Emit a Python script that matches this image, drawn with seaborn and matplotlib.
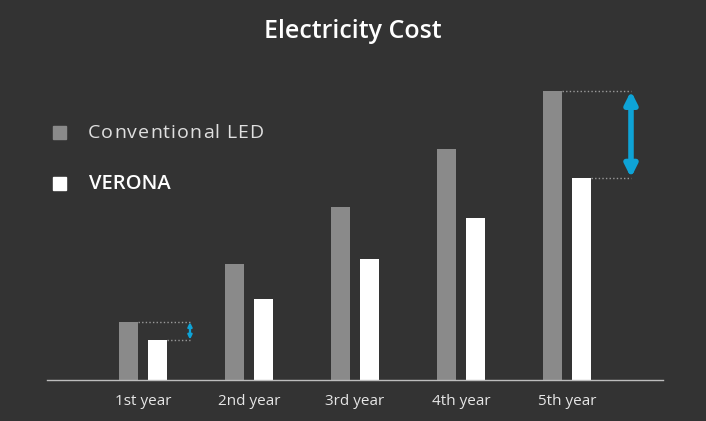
import numpy as np
import pandas as pd
import matplotlib.pyplot as plt
import seaborn as sns
from matplotlib.patches import Rectangle

# chart data
years = ['1st year', '2nd year', '3rd year', '4th year', '5th year']
conventional = [1.0, 2.0, 3.0, 4.0, 5.0]
verona = [0.7, 1.4, 2.1, 2.8, 3.5]
series_names = ['Conventional LED', 'VERONA']

df = pd.DataFrame({
    'Year': years * 2,
    'Cost': conventional + verona,
    'Type': [series_names[0]] * 5 + [series_names[1]] * 5,
})

bg = '#333333'
gray = '#8a8a8a'
cyan = '#0ea3d6'

sns.set_theme(style='white')
plt.rcParams['font.family'] = ['Open Sans', 'DejaVu Sans']

fig = plt.figure(figsize=(7.06, 4.21), dpi=100, facecolor=bg)
ax = fig.add_axes([47 / 706, 41 / 421, 616 / 706, 300 / 421])
ax.set_facecolor(bg)

sns.barplot(data=df, x='Year', y='Cost', hue='Type', order=years,
            palette=[gray, 'white'], width=0.56, gap=0.36,
            edgecolor='none', saturation=1, legend=False, ax=ax)

ax.set_xlim(-0.906, 4.906)
ax.set_ylim(0, 300 / 57.8)
ax.set_xlabel('')
ax.set_ylabel('')
ax.set_yticks([])
for s in ['top', 'right', 'left']:
    ax.spines[s].set_visible(False)
ax.spines['bottom'].set_color('#bdbdbd')
ax.spines['bottom'].set_linewidth(1)
ax.tick_params(axis='x', length=0, pad=10, labelsize=11, labelcolor='#e6e6e6')

# difference markers for 1st and 5th year
dot = dict(color='#9a9a9a', lw=1, linestyle=(0, (1, 1.6)))
for i, xa, lw, ms in [(0, 0.443, 1.6, 6), (4, 4.604, 4, 18)]:
    ax.plot([i - 0.05, xa], [conventional[i], conventional[i]], **dot)
    ax.plot([i + 0.23, xa], [verona[i], verona[i]], **dot)
    ax.annotate('', xy=(xa, conventional[i]), xytext=(xa, verona[i]),
                arrowprops=dict(arrowstyle='<|-|>', color=cyan, lw=lw,
                                mutation_scale=ms, shrinkA=0, shrinkB=0))

# legend
fig.patches.append(Rectangle((53 / 706, 1 - 139 / 421), 13 / 706, 13 / 421,
                             transform=fig.transFigure, color=gray))
fig.patches.append(Rectangle((53 / 706, 1 - 190 / 421), 13 / 706, 13 / 421,
                             transform=fig.transFigure, color='white'))

# "Conventional LED" is letter-spaced in the original, so place it char by char
renderer = fig.canvas.get_renderer()
x = 88
for ch in series_names[0]:
    if ch == ' ':
        x += 6
        continue
    t = fig.text(x / 706, 1 - 133 / 421, ch, color='#e0e0e0',
                 fontsize=14, va='center', ha='left')
    x += t.get_window_extent(renderer).width + 1.0

fig.text(89 / 706, 1 - 184 / 421, series_names[1], color='white',
         fontsize=14.5, fontweight='semibold', va='center', ha='left')

fig.text(0.5, 1 - 32 / 421, 'Electricity Cost', color='white', fontsize=18,
         fontweight='semibold', ha='center', va='center')

fig.savefig('out.png', dpi=100, facecolor=bg)
